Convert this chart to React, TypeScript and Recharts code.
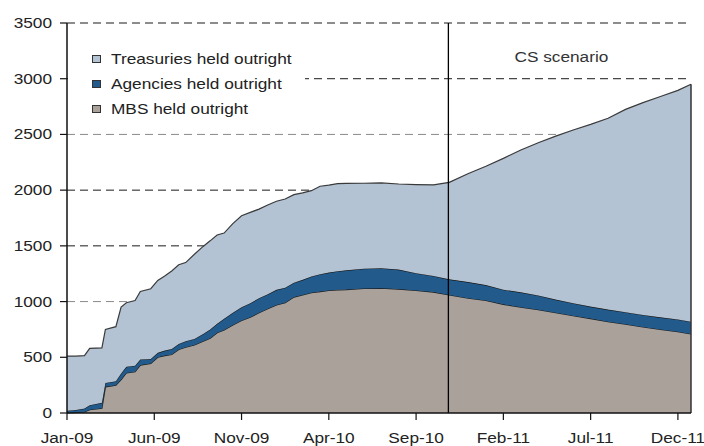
import React from 'react';
import { AreaChart, Area, XAxis, YAxis, CartesianGrid, ReferenceLine, Legend } from 'recharts';

// x positions in months since start of Jan-09
const months = [
  0, 0.5, 1, 1.3, 2, 2.2, 2.8, 3.1, 3.4, 3.9,
  4.2, 4.8, 5.2, 5.6, 6, 6.4, 6.8, 7.3, 7.8, 8.2,
  8.6, 9, 9.5, 10, 10.5, 11, 11.5, 12, 12.5, 13,
  13.5, 14, 14.5, 15, 15.5, 16, 17, 18, 19, 20,
  21, 21.9, 23, 24, 25, 26, 27, 28, 29, 30,
  31, 32, 33, 34, 35, 35.75,
];

const mbsHeld = [
  0, 5, 10, 30, 42, 235, 250, 300, 360, 370,
  430, 445, 500, 515, 525, 570, 590, 610, 645, 670,
  720, 745, 790, 830, 860, 900, 935, 970, 990, 1040,
  1060, 1080, 1090, 1100, 1105, 1108, 1118, 1120, 1112, 1100,
  1085, 1060, 1030, 1010, 975, 950, 927, 900, 873, 847,
  820, 797, 772, 750, 730, 709,
];

const agenciesHeld = [
  20, 22, 30, 40, 50, 35, 35, 55, 55, 55,
  50, 40, 40, 45, 50, 50, 55, 55, 65, 80,
  80, 100, 110, 120, 125, 130, 130, 135, 135, 130,
  135, 145, 155, 160, 167, 172, 177, 180, 175, 155,
  145, 140, 145, 138, 132, 133, 128, 118, 113, 108,
  108, 108, 108, 109, 110, 110,
];

const treasuriesHeld = [
  490, 483, 475, 510, 493, 480, 490, 595, 575, 585,
  610, 630, 650, 670, 700, 710, 705, 760, 785, 795,
  798, 770, 800, 820, 815, 800, 802, 795, 795, 790,
  780, 770, 790, 785, 786, 780, 767, 765, 768, 795,
  818, 870, 975, 1067, 1178, 1277, 1370, 1467, 1554, 1635,
  1717, 1820, 1905, 1981, 2055, 2131,
];

const tickMonths = [0, 5, 10, 15, 20, 25, 30, 35];
const tickLabels = ['Jan-09', 'Jun-09', 'Nov-09', 'Apr-10', 'Sep-10', 'Feb-11', 'Jul-11', 'Dec-11'];
const yTicks = [0, 500, 1000, 1500, 2000, 2500, 3000, 3500];
const yMax = 3500;
const darkGridValues = [1500, 2000, 3000, 3500];
const lightGridValues = [500, 1000, 2500];
const scenarioStart = 21.85;
const scenarioLabel = 'CS scenario';

const seriesNames = {
  treasuries: 'Treasuries held outright',
  agencies: 'Agencies held outright',
  mbs: 'MBS held outright',
};

const COLORS = {
  treasuries: '#b3c3d3',
  agencies: '#215a8b',
  mbs: '#aaa19b',
};

const data = months.map((m, i) => ({
  month: m,
  mbs: mbsHeld[i],
  agencies: agenciesHeld[i],
  treasuries: treasuriesHeld[i],
}));

const lastIdx = months.length - 1;
const lastTotal = mbsHeld[lastIdx] + agenciesHeld[lastIdx] + treasuriesHeld[lastIdx];

const FONT = '"Liberation Sans", Arial, sans-serif';
const SX = 1.15;

const YTick = (props: any) => {
  const { x, y, payload } = props;
  return (
    <g transform={`translate(${x},${y})`}>
      <text x={0} y={0} dy={5} textAnchor="end" fontSize={15} fontFamily={FONT} fill="#222" transform={`scale(${SX},1)`}>
        {payload.value}
      </text>
    </g>
  );
};

const XTick = (props: any) => {
  const { x, y, payload } = props;
  const idx = tickMonths.indexOf(payload.value);
  return (
    <g transform={`translate(${x},${y})`}>
      <text x={0} y={0} dy={11} textAnchor="middle" fontSize={15} fontFamily={FONT} fill="#222" transform={`scale(${SX},1)`}>
        {idx >= 0 ? tickLabels[idx] : ''}
      </text>
    </g>
  );
};

const gridGen = (values: number[]) => (args: any) => {
  const yAxis = args && args.yAxis;
  const s = yAxis && yAxis.scale;
  if (typeof s === 'function') return values.map((v) => s(v));
  const off = (args && args.offset) || {};
  return values.map((v) => off.top + off.height * (1 - v / yMax));
};

const renderLegend = () => {
  const keys: Array<'treasuries' | 'agencies' | 'mbs'> = ['treasuries', 'agencies', 'mbs'];
  return (
    <div style={{ background: '#fff', width: 237, height: 85, paddingTop: 8, paddingLeft: 24, boxSizing: 'border-box' }}>
      {keys.map((k) => (
        <div key={k} style={{ height: 25, display: 'flex', alignItems: 'center' }}>
          <span
            style={{
              display: 'inline-block',
              width: 9,
              height: 8,
              boxSizing: 'border-box',
              border: '1px solid #333',
              background: COLORS[k],
            }}
          />
          <span
            style={{
              display: 'inline-block',
              marginLeft: 10,
              fontFamily: FONT,
              fontSize: 15,
              color: '#222',
              whiteSpace: 'nowrap',
              transform: `scaleX(${SX})`,
              transformOrigin: 'left center',
              lineHeight: '25px',
            }}
          >
            {seriesNames[k]}
          </span>
        </div>
      ))}
    </div>
  );
};

const ScenarioLabel = (props: any) => {
  const vb = props.viewBox || {};
  return (
    <g transform={`translate(${vb.x + 113},${vb.y + 39})`}>
      <text x={0} y={0} textAnchor="middle" fontSize={15} fontFamily={FONT} fill="#333" transform={`scale(${SX},1)`}>
        {scenarioLabel}
      </text>
    </g>
  );
};

export default function App() {
  return (
    <div style={{ position: 'absolute', left: 0, top: 0, width: 704, height: 446, background: '#fff' }}>
      <AreaChart width={704} height={446} data={data} margin={{ top: 23, right: 13, bottom: 0, left: 0 }}>
        <CartesianGrid
          vertical={false}
          stroke="#8a8a8a"
          strokeDasharray="8 5"
          horizontalCoordinatesGenerator={gridGen(lightGridValues)}
        />
        <CartesianGrid
          vertical={false}
          stroke="#1a1a1a"
          strokeDasharray="8 5"
          horizontalCoordinatesGenerator={gridGen(darkGridValues)}
        />
        <XAxis
          dataKey="month"
          type="number"
          domain={[0, months[lastIdx]]}
          ticks={tickMonths}
          tick={<XTick />}
          tickSize={7}
          tickMargin={12}
          height={33}
          axisLine={{ stroke: '#111', strokeWidth: 1.5 }}
          tickLine={{ stroke: '#111', strokeWidth: 1.2 }}
          interval={0}
        />
        <YAxis
          type="number"
          domain={[0, yMax]}
          ticks={yTicks}
          tick={<YTick />}
          tickSize={7}
          tickMargin={8}
          width={67}
          axisLine={{ stroke: '#111', strokeWidth: 1.5 }}
          tickLine={{ stroke: '#111', strokeWidth: 1.2 }}
          interval={0}
        />
        <Legend
          layout="horizontal"
          align="center"
          verticalAlign="middle"
          content={renderLegend}
          wrapperStyle={{ left: 68, top: 38, width: 237, height: 85 }}
        />
        <Area
          type="linear"
          dataKey="mbs"
          name={seriesNames.mbs}
          stackId="1"
          fill={COLORS.mbs}
          fillOpacity={1}
          stroke="#1a1a1a"
          strokeWidth={1.2}
          dot={false}
          activeDot={false}
          isAnimationActive={false}
        />
        <Area
          type="linear"
          dataKey="agencies"
          name={seriesNames.agencies}
          stackId="1"
          fill={COLORS.agencies}
          fillOpacity={1}
          stroke="#1a1a1a"
          strokeWidth={1.2}
          dot={false}
          activeDot={false}
          isAnimationActive={false}
        />
        <Area
          type="linear"
          dataKey="treasuries"
          name={seriesNames.treasuries}
          stackId="1"
          fill={COLORS.treasuries}
          fillOpacity={1}
          stroke="#3a3a3a"
          strokeWidth={1.2}
          dot={false}
          activeDot={false}
          isAnimationActive={false}
        />
        <ReferenceLine
          segment={[
            { x: months[lastIdx], y: 0 },
            { x: months[lastIdx], y: lastTotal },
          ]}
          stroke="#333"
          strokeWidth={1.5}
        />
        <ReferenceLine x={scenarioStart} stroke="#000" strokeWidth={1.3} label={<ScenarioLabel />} />
      </AreaChart>
    </div>
  );
}
